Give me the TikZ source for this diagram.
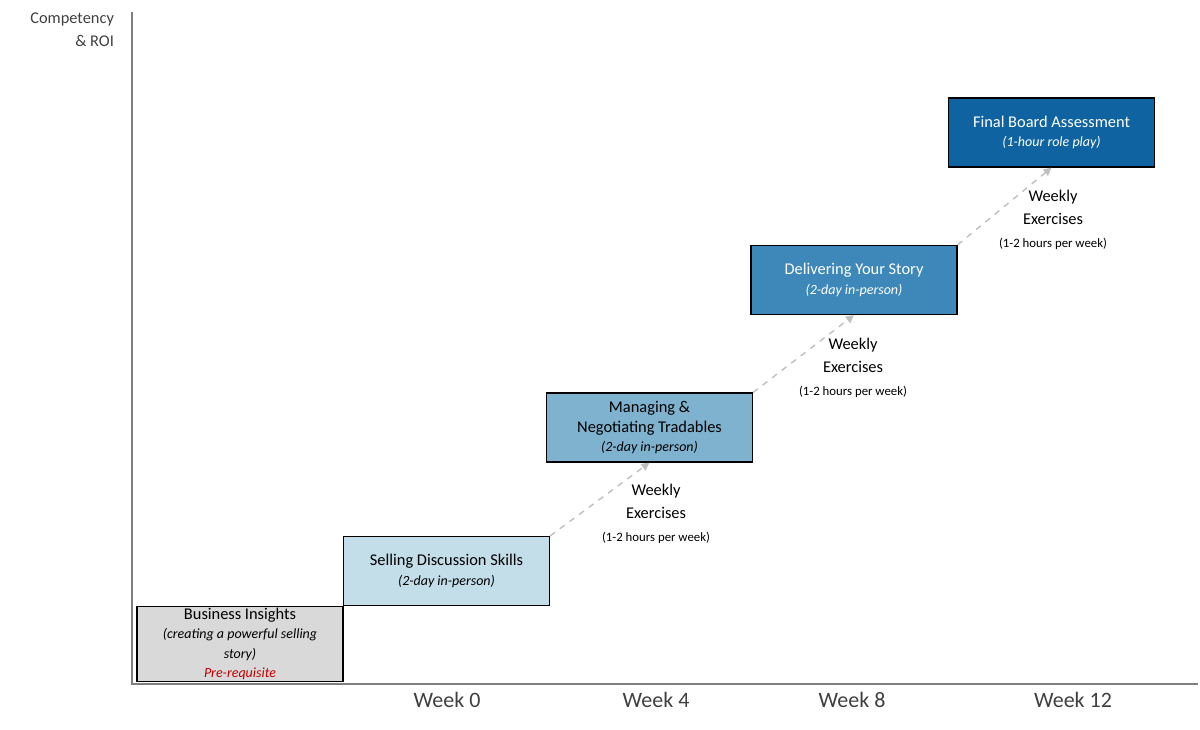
\documentclass[tikz,border=0pt]{standalone}
\usepackage{fontspec}
\setmainfont{Carlito}
\usepackage{tikz}
\usetikzlibrary{positioning,arrows.meta}
\definecolor{axisgray}{HTML}{7F7F7F}
\definecolor{boxgray}{HTML}{D9D9D9}
\definecolor{stepone}{HTML}{C3DDE9}
\definecolor{steptwo}{HTML}{7EB2CE}
\definecolor{stepthree}{HTML}{3D88B8}
\definecolor{stepfour}{HTML}{0F63A0}
\definecolor{prereq}{HTML}{C00000}

\begin{document}
\begin{tikzpicture}[x=0.5pt,y=-0.5pt,
	stage/.style={draw=black, line width=0.6pt, minimum width=103pt, minimum height=34.5pt, align=center, inner sep=1pt, font=\fontsize{8.2}{9.6}\selectfont},
	weekly/.style={align=center, font=\fontsize{8.2}{11.5}\selectfont},
	tick/.style={font=\fontsize{11}{13}\selectfont, text=black!75},
	link/.style={draw=black!25, dashed, line width=0.7pt, -{Triangle[length=4pt,width=4pt]}}]
	\useasboundingbox (0,0) rectangle (1200,729);
	% Axes
	\coordinate (origin) at (132,684);
	\coordinate (ytop) at (132,12);
	\coordinate (xend) at (1198,684);
	\draw[axisgray, line width=0.8pt] (ytop) -- (origin) -- (xend);
	\node[align=right, anchor=north east, font=\fontsize{8.2}{11.5}\selectfont, text=black!75] (roi) at (121,6) {Competency\\\& ROI};
	% Stages
	\node[stage, fill=boxgray] (bi) at (240,644) {Business Insights\\{\scriptsize\itshape (creating a powerful selling}\\{\scriptsize\itshape story)}\\{\scriptsize\itshape\color{prereq} Pre-requisite}};
	\node[stage, fill=stepone] (sds) at (446.5,571) {Selling Discussion Skills\\{\scriptsize\itshape (2-day in-person)}};
	\node[stage, fill=steptwo] (mnt) at (649.5,427.5) {Managing \&\\Negotiating Tradables\\{\scriptsize\itshape (2-day in-person)}};
	\node[stage, fill=stepthree, text=white] (dys) at (854,280) {Delivering Your Story\\{\scriptsize\itshape (2-day in-person)}};
	\node[stage, fill=stepfour, text=white] (fba) at (1051.5,132.5) {Final Board Assessment\\{\scriptsize\itshape (1-hour role play)}};
	% Progress
	\draw[link] (sds.north east) -- (mnt.south);
	\draw[link] (mnt.north east) -- (dys.south);
	\draw[link] (dys.north east) -- (fba.south);
	\node[weekly] (wk1) at (656,514) {Weekly\\Exercises\\{\fontsize{6.4}{8}\selectfont (1-2 hours per week)}};
	\node[weekly] (wk2) at (853,368) {Weekly\\Exercises\\{\fontsize{6.4}{8}\selectfont (1-2 hours per week)}};
	\node[weekly] (wk3) at (1053,220) {Weekly\\Exercises\\{\fontsize{6.4}{8}\selectfont (1-2 hours per week)}};
	% Weeks
	\node[tick] (w0) at (447,700) {Week 0};
	\node[tick] (w4) at (656,700) {Week 4};
	\node[tick] (w8) at (852,700) {Week 8};
	\node[tick] (w12) at (1073,700) {Week 12};
\end{tikzpicture}
\end{document}
